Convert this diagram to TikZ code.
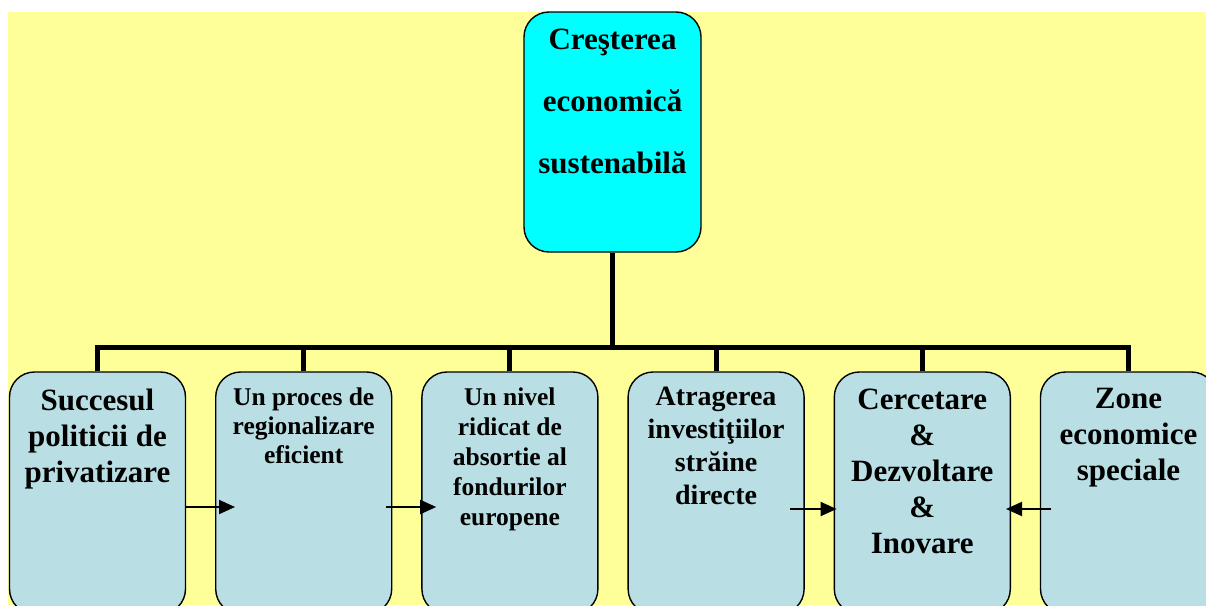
\documentclass[tikz,border=0pt]{standalone}
\usepackage{fontspec}
\setmainfont{Liberation Serif}
\usetikzlibrary{arrows.meta}
\definecolor{bgyellow}{HTML}{FFFF99}
\definecolor{topcyan}{HTML}{00FFFF}
\definecolor{boxblue}{HTML}{B9DFE4}
\tikzset{
  box/.style={draw,line width=1.4pt,rounded corners=25pt,fill=boxblue,
    minimum width=176pt,minimum height=242pt,inner sep=0pt},
  lbl/.style 2 args={font=\bfseries\fontsize{#1}{#2}\selectfont,align=center,
    anchor=north,inner sep=0pt},
  tree/.style={line width=5pt},
  flow/.style={line width=2pt,-{Triangle[length=16pt,width=14pt]}}
}
\begin{document}
\begin{tikzpicture}[x=1pt,y=-1pt]
    \useasboundingbox (0,0) rectangle (1206,605);
    \fill[bgyellow] (8,12) rectangle (1206,605);
    \def\x{206.2}
    \def\y{493}
    \node[box,fill=topcyan,minimum width=177pt,minimum height=240pt] (A0) at (612.5,132) {};
    \node[lbl={31}{62}] (T0) at ([yshift=-17pt]A0.north) {Creşterea\\economică\\sustenabilă};
    \node[box] (B1) at (97.5+0*\x,\y) {};
    \node[box] (B2) at (97.5+1*\x,\y) {};
    \node[box] (B3) at (97.5+2*\x,\y) {};
    \node[box] (B4) at (97.5+3*\x,\y) {};
    \node[box] (B5) at (97.5+4*\x,\y) {};
    \node[box] (B6) at (97.5+5*\x,\y) {};
    \node[lbl={31}{36}] (T1) at ([yshift=-17pt]B1.north) {Succesul\\politicii de\\privatizare};
    \node[lbl={25.5}{29}] (T2) at ([yshift=-16pt]B2.north) {Un proces de\\regionalizare\\eficient};
    \node[lbl={25.5}{30}] (T3) at ([yshift=-16pt]B3.north) {Un nivel\\ridicat de\\absortie al\\fondurilor\\europene};
    \node[lbl={28}{33}] (T4) at ([yshift=-16pt]B4.north) {Atragerea\\investiţiilor\\străine\\directe};
    \node[lbl={31}{36}] (T5) at ([yshift=-17pt]B5.north) {Cercetare\\\&\\Dezvoltare\\\&\\Inovare};
    \node[lbl={31}{36}] (T6) at ([yshift=-17pt]B6.north) {Zone\\economice\\speciale};
    \coordinate (J) at (612.5,347);
    \draw[tree] (A0.south) -- (J);
    \draw[tree] (B1.north) |- (J) -| (B6.north);
    \foreach \b in {B2,B3,B4,B5}
      \draw[tree] (\b.north) -- (\b.north |- J);
    \draw[flow] ([yshift=-14pt]B1.east) -- ([xshift=20pt,yshift=-14pt]B2.west);
    \draw[flow] ([xshift=-6pt,yshift=-14pt]B2.east) -- ([xshift=15pt,yshift=-14pt]B3.west);
    \draw[flow] ([xshift=-15pt,yshift=-16pt]B4.east) -- ([xshift=3pt,yshift=-16pt]B5.west);
    \draw[flow] ([xshift=11pt,yshift=-16pt]B6.west) -- ([xshift=-5pt,yshift=-16pt]B5.east);
  \end{tikzpicture}
\end{document}
